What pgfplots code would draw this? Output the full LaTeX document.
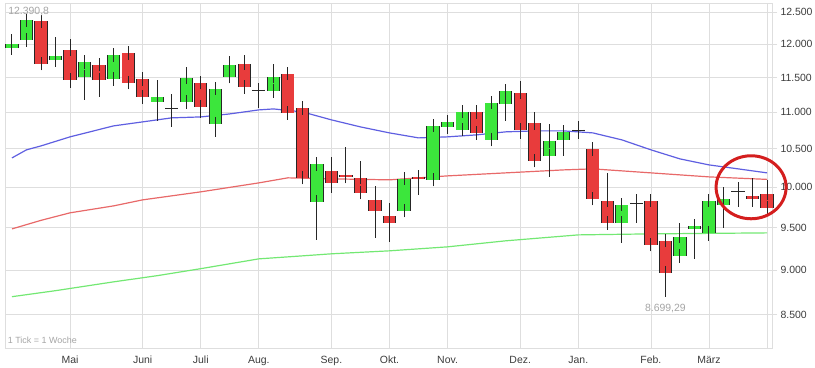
\documentclass[border=0pt]{standalone}
\usepackage{pgfplots}
\pgfplotsset{compat=1.18}
\usepackage{pgfplotstable}
\usepackage{fontspec}
\setmainfont{Liberation Sans}

\definecolor{cg}{RGB}{60,230,60}
\definecolor{cr}{RGB}{232,60,60}
\definecolor{ck}{RGB}{40,40,40}
\definecolor{gridc}{RGB}{222,222,222}
\definecolor{mablue}{RGB}{95,95,225}
\definecolor{mared}{RGB}{232,105,105}
\definecolor{magreen}{RGB}{115,232,115}
\definecolor{txt}{RGB}{60,60,60}
\definecolor{anno}{RGB}{165,165,165}

% t: 1 = up (green), 0 = down (red), 2 = doji (black)
\pgfplotstableread{
i O H L C t
0 11940 12155 11880 12001 1
1 12062 12390.8 12032 12370 1
2 12350 12380 11685 11700 0
3 11759 12109 11685 11819 1
4 11910 12078 11348 11464 0
5 11508 11774 11176 11729 1
6 11685 11714 11218 11464 0
7 11478 11910 11391 11834 1
8 11864 11940 11410 11420 0
9 11478 11537 11161 11218 0
10 11147 11464 10881 11218 1
11 11065 11261 10798 11060 2
12 11147 11655 11077 11493 1
13 11420 11430 10923 11077 0
14 10839 11362 10662 11333 1
15 11508 11819 11420 11685 1
16 11700 11834 11348 11362 0
17 11320 11330 11062 11315 2
18 11304 11700 11276 11508 1
19 11552 11640 10909 10992 0
20 11062 11133 10115 10120 0
21 9815 10394 9352 10301 1
22 10210 10394 9928 10055 0
23 10158 10527 10055 10132 0
24 10120 10341 9865 9928 0
25 9840 10017 9376 9703 0
26 9642 9803 9328 9556 0
27 9703 10145 9642 10107 1
28 10132 10197 9903 10107 0
29 10094 10867 10085 10812 1
30 10798 10909 10702 10867 1
31 10757 11062 10743 11006 1
32 11006 11015 10621 10716 0
33 10621 11176 10612 11133 1
34 11119 11391 10881 11304 1
35 11276 11449 10634 10757 0
36 10853 11006 10315 10341 0
37 10407 10839 10132 10607 1
38 10621 10812 10407 10730 1
39 10760 10881 10634 10755 2
40 10500 10510 9828 9853 0
41 9828 10184 9472 9556 0
42 9556 9853 9316 9778 1
43 9805 9916 9556 9800 2
44 9828 9835 9257 9293 0
45 9340 9345 8699.29 8967 0
46 9163 9556 9082 9388 1
47 9484 9593 9128 9520 1
48 9435 9916 9340 9828 1
49 9778 10004 9496 9853 1
50 9955 10068 9753 9950 2
51 9890 10120 9753 9853 0
52 9916 10094 9703 9740 0
}\candles

\pgfplotsset{
  body/.style n args={2}{draw=none, no markers,
    restrict expr to domain={\thisrow{t}}{#1:#1},
    error bars/.cd, y dir=both, y explicit,
    error bar style={draw=#2, line width=11.4bp},
    error mark=-, error mark options={draw=black!85, line width=1bp, mark size=6.6bp}},
}

\begin{document}
\begin{tikzpicture}
\useasboundingbox (-5bp,-20bp) rectangle (810bp,348bp);
\begin{axis}[
  at={(0,0)}, anchor=south west,
  scale only axis, width=767bp, height=345bp,
  xmin=-0.48, xmax=52.34,
  ymode=log, ymin=8150, ymax=12644,
  axis line style={draw=gridc},
  xtick={4,9,13,17,22,26,30,35,39,44,48,52},
  xticklabels={Mai,Juni,Juli,Aug.,Sep.,Okt.,Nov.,Dez.,Jan.,Feb.,März,{}},
  xtick style={draw=none},
  ytick={8500,9000,9500,10000,10500,11000,11500,12000,12500},
  yticklabels={8.500,9.000,9.500,10.000,10.500,11.000,11.500,12.000,12.500},
  yticklabel pos=right, ytick pos=right,
  ytick style={draw=gridc, line width=0.8bp},
  tick align=outside, major tick length=5bp,
  grid=major, major grid style={draw=gridc, line width=0.8bp},
  tick label style={font=\fontsize{10.5}{12}\selectfont, text=txt},
  clip=false,
]
\addplot[mablue, line width=1.2bp] coordinates {
(0,10380) (1,10487) (2,10540) (4,10662) (7,10812) (9,10867) (11,10923) (13,10936)
(15,10978) (17,11034) (18,11048) (20,11006) (22,10895) (24,10798) (26,10716)
(28,10648) (30,10662) (32,10689) (34,10730) (36,10743) (38,10743) (40,10716)
(42,10621) (44,10487) (46,10367) (48,10288) (50,10236) (52,10184)};
\addplot[mared, line width=1.2bp] coordinates {
(0,9483) (2,9587) (4,9679) (7,9765) (9,9840) (13,9941) (17,10055) (19,10120)
(22,10107) (26,10094) (30,10145) (34,10184) (38,10223) (40,10236) (42,10210)
(44,10184) (48,10132) (52,10100)};
\addplot[magreen, line width=1.2bp] coordinates {
(0,8699) (3,8766) (7,8865) (10,8935) (13,9015) (17,9128) (20,9163) (22,9187)
(26,9222) (30,9269) (34,9340) (39,9411) (44,9423) (52,9435)};

% wicks
\addplot[draw=none, no markers, error bars/.cd, y dir=plus, y explicit,
  error mark=none, error bar style={draw=black!85, line width=1bp}]
  table[x=i, y=L, y error plus expr=\thisrow{H}-\thisrow{L}] {\candles};
% body outlines
\addplot[draw=none, no markers, error bars/.cd, y dir=both, y explicit,
  error mark=none, error bar style={draw=black!85, line width=13.2bp}]
  table[x=i, y expr=(\thisrow{O}+\thisrow{C})/2, y error expr=abs(\thisrow{C}-\thisrow{O})/2] {\candles};
% body fills
\addplot[body={1}{cg}] table[x=i, y expr=(\thisrow{O}+\thisrow{C})/2, y error expr=abs(\thisrow{C}-\thisrow{O})/2] {\candles};
\addplot[body={0}{cr}] table[x=i, y expr=(\thisrow{O}+\thisrow{C})/2, y error expr=abs(\thisrow{C}-\thisrow{O})/2] {\candles};
\addplot[body={2}{ck}] table[x=i, y expr=(\thisrow{O}+\thisrow{C})/2, y error expr=abs(\thisrow{C}-\thisrow{O})/2] {\candles};

\node[font=\fontsize{10.5}{12}\selectfont, text=anno] at (axis cs:1.15,12510) {12.390,8};
\node[font=\fontsize{10.5}{12}\selectfont, text=anno] at (axis cs:45,8573) {8.699,29};
\node[anchor=west, inner sep=0pt, font=\fontsize{9}{10}\selectfont, text=anno] at (axis cs:-0.3,8233) {1 Tick = 1 Woche};
\coordinate (ell) at (axis cs:50.9,10000);
\end{axis}
\draw[draw={rgb,255:red,212;green,30;blue,30}, line width=3bp] (ell) ellipse [x radius=35bp, y radius=31.5bp];
\end{tikzpicture}
\end{document}
